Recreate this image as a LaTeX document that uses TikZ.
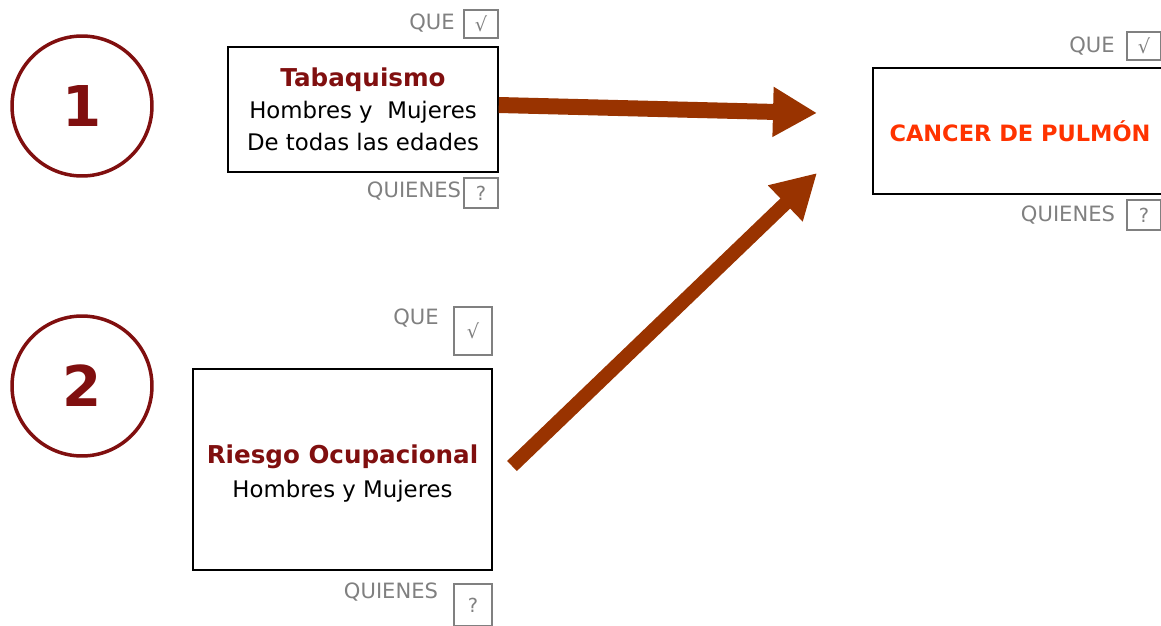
\documentclass[tikz,border=0pt]{standalone}
\usepackage{fontspec}
\setmainfont{DejaVu Sans}
\usetikzlibrary{arrows.meta, positioning}
\usepackage{xcolor}
\definecolor{mymaroon}{rgb}{0.50,0.06,0.06}
\definecolor{myarrow}{rgb}{0.60,0.20,0.00}
\definecolor{myorange}{rgb}{1.00,0.20,0.00}
\definecolor{mygray}{rgb}{0.50,0.50,0.50}
\newcommand{\LblQue}{QUE}
\newcommand{\LblQuienes}{QUIENES}
\newcommand{\MarkOk}{√}
\newcommand{\MarkAsk}{?}

\begin{document}
\begin{tikzpicture}[x=0.02cm, y=-0.02cm,
    num/.style={circle, draw=mymaroon, line width=0.07cm, minimum size=2.8cm,
      text=mymaroon, font=\fontsize{32}{36}\selectfont\bfseries},
    box/.style={draw, line width=0.9pt, align=center, inner sep=0pt},
    lbl/.style={text=mygray, font=\fontsize{12}{14}\selectfont},
    tag/.style={draw=mygray, line width=0.6pt, text=mygray, inner sep=0pt,
      font=\fontsize{11}{13}\selectfont},
    bigarrow/.style={draw=myarrow, line width=0.32cm,
      -{Triangle[length=0.88cm, width=0.94cm]}, myarrow}]
  \clip (0,0) rectangle (1161,626);
  % numbers
  \node[num] (N1) at (82,106) {1};
  \node[num] (N2) at (82,386) {2};
  % boxes
  \node[box, minimum width=5.4cm, minimum height=2.5cm,
    font=\fontsize{13}{18.2}\selectfont] (Tab) at (363,109.5)
    {{\fontsize{14}{18.2}\selectfont\bfseries\color{mymaroon}Tabaquismo}\\
     Hombres y\ \ Mujeres\\
     De todas las edades};
  \node[box, minimum width=5.98cm, minimum height=4.02cm,
    font=\fontsize{13}{19.4}\selectfont] (Rie) at (342.5,469.5)
    {{\fontsize{14}{19.4}\selectfont\bfseries\color{mymaroon}\rule{0pt}{15pt}Riesgo Ocupacional}\\
     Hombres y Mujeres};
  \node[box, minimum width=5.88cm, minimum height=2.52cm,
    text=myorange, font=\fontsize{12.8}{15}\selectfont\bfseries] (Can) at (1020,131)
    {CANCER DE PULMÓN};
  % que / quienes tags
  \node[lbl] (Q1) at (432,23) {\LblQue};
  \node[tag, minimum width=0.68cm, minimum height=0.56cm] (Q1b) at (481,24) {\MarkOk};
  \node[lbl] (W1) at (414,191) {\LblQuienes};
  \node[tag, minimum width=0.68cm, minimum height=0.60cm] (W1b) at (481,193) {\MarkAsk};
  \node[lbl] (Q2) at (416,318) {\LblQue};
  \node[tag, minimum width=0.76cm, minimum height=0.96cm] (Q2b) at (473,331) {\MarkOk};
  \node[lbl] (W2) at (391,592) {\LblQuienes};
  \node[tag, minimum width=0.76cm, minimum height=0.84cm] (W2b) at (473,605) {\MarkAsk};
  \node[lbl] (Q3) at (1092,46) {\LblQue};
  \node[tag, minimum width=0.68cm, minimum height=0.56cm] (Q3b) at (1144,46) {\MarkOk};
  \node[lbl] (W3) at (1068,215) {\LblQuienes};
  \node[tag, minimum width=0.68cm, minimum height=0.60cm] (W3b) at (1144,215) {\MarkAsk};
  % arrows
  \coordinate (T1) at (817,113);
  \coordinate (S2) at (512,466);
  \coordinate (T2) at (817,173);
  \draw[bigarrow] ([yshift=0.09cm]Tab.east) -- (T1);
  \draw[bigarrow, line width=0.28cm] (S2) -- (T2);
\end{tikzpicture}
\end{document}
